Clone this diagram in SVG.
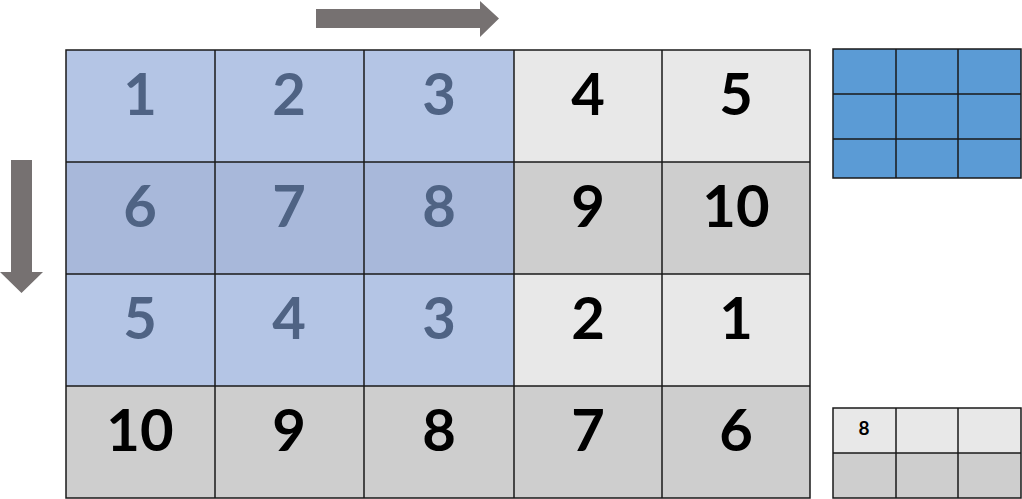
<svg xmlns="http://www.w3.org/2000/svg" width="1022" height="499" viewBox="0 0 1022 499">
<style>
.lt{fill:#e8e8e8}
.dk{fill:#cecece}
.bl{fill:#b4c5e5}
.bd{fill:#a8b8da}
.ln{stroke:#1a1a1a;stroke-width:1.5;fill:none}
.t{font-family:Lato,"Open Sans",sans-serif;font-weight:700;font-size:58px;text-anchor:middle;fill:#000}
.tb{fill:#4f6384}
.arrow{fill:#767171}
</style>
<rect width="1022" height="499" fill="#fff"/>
<g id="arrow-right"><polygon class="arrow" points="316,9 480,9 480,1 499,18.5 480,37 480,28 316,28"/></g>
<g id="arrow-down"><polygon class="arrow" points="11,160 32,160 32,272 43,272 21.5,293 0,272 11,272"/></g>
<g id="grid">
<rect class="bl" x="66" y="50" width="448" height="112"/>
<rect class="lt" x="514" y="50" width="296" height="112"/>
<rect class="bd" x="66" y="162" width="448" height="112"/>
<rect class="dk" x="514" y="162" width="296" height="112"/>
<rect class="bl" x="66" y="274" width="448" height="112"/>
<rect class="lt" x="514" y="274" width="296" height="112"/>
<rect class="dk" x="66" y="386" width="744" height="112"/>
<path class="ln" d="M66,50H810V498H66Z M215,50V498 M364,50V498 M514,50V498 M662,50V498 M66,162H810 M66,274H810 M66,386H810"/>
</g>
<g id="labels">
<text class="t tb" x="140" y="115">1</text>
<text class="t tb" x="289" y="115">2</text>
<text class="t tb" x="439" y="115">3</text>
<text class="t" x="588" y="115">4</text>
<text class="t" x="736" y="115">5</text>
<text class="t tb" x="140" y="227">6</text>
<text class="t tb" x="289" y="227">7</text>
<text class="t tb" x="439" y="227">8</text>
<text class="t" x="588" y="227">9</text>
<text class="t" x="736" y="227">10</text>
<text class="t tb" x="140" y="339">5</text>
<text class="t tb" x="289" y="339">4</text>
<text class="t tb" x="439" y="339">3</text>
<text class="t" x="588" y="339">2</text>
<text class="t" x="736" y="339">1</text>
<text class="t" x="140" y="451">10</text>
<text class="t" x="289" y="451">9</text>
<text class="t" x="439" y="451">8</text>
<text class="t" x="588" y="451">7</text>
<text class="t" x="736" y="451">6</text>
</g>
<g id="kernel">
<rect x="833" y="49" width="188" height="129" fill="#5b9bd5"/>
<path class="ln" d="M833,49H1021V178H833Z M896,49V178 M958,49V178 M833,94H1021 M833,139H1021"/>
</g>
<g id="mini-grid">
<rect class="lt" x="833" y="408" width="188" height="45"/>
<rect class="dk" x="833" y="453" width="188" height="45"/>
<path class="ln" d="M833,408H1021V498H833Z M896,408V498 M958,408V498 M833,453H1021"/>
<text x="864" y="435" style="font-family:Lato,'Open Sans',sans-serif;font-weight:700;font-size:19px;text-anchor:middle;fill:#000">8</text>
</g>
</svg>
